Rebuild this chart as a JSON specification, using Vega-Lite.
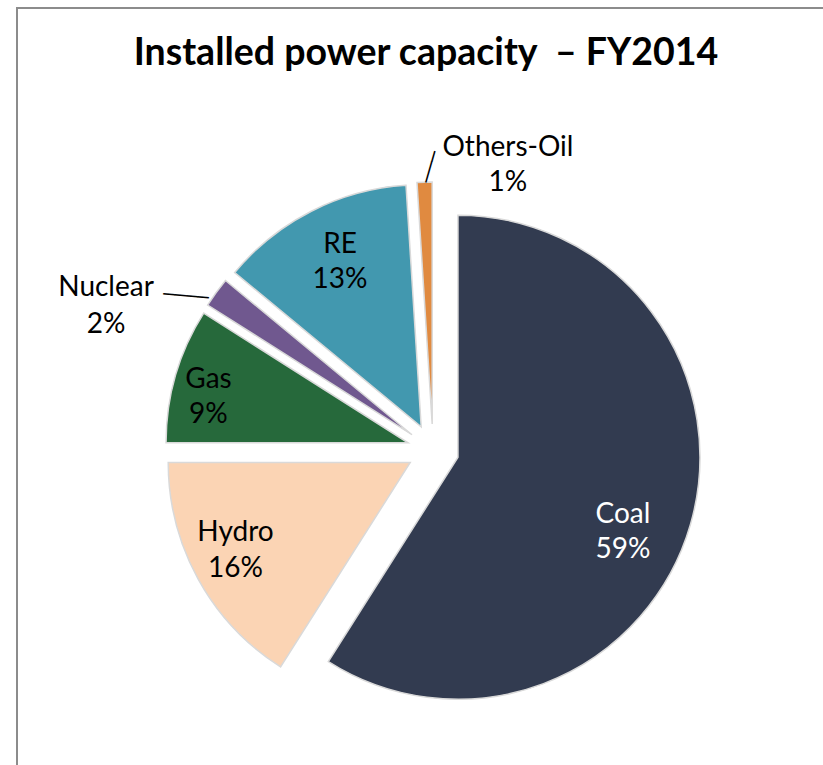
{
  "$schema": "https://vega.github.io/schema/vega-lite/v6.json",
  "autosize": "none",
  "width": 832,
  "height": 884,
  "padding": {"left": 17, "top": 8, "right": 0, "bottom": 0},
  "background": "white",
  "view": {"stroke": "#8c8c8c", "strokeWidth": 2},
  "title": {
    "text": "Installed power capacity\u00a0 – FY2014",
    "font": "Lato",
    "fontSize": 37.5,
    "fontWeight": "bold",
    "color": "black",
    "anchor": "middle",
    "orient": "top",
    "offset": -94,
    "baseline": "alphabetic",
    "dx": -7
  },
  "data": {
    "values": [
      {"category": "Coal", "share": 59, "rank": 1, "label": "Coal\n59%"},
      {"category": "Hydro", "share": 16, "rank": 2, "label": "Hydro\n16%"},
      {"category": "Gas", "share": 9, "rank": 3, "label": "Gas\n9%"},
      {"category": "Nuclear", "share": 2, "rank": 4, "label": "Nuclear\n2%"},
      {"category": "RE", "share": 13, "rank": 5, "label": "RE\n13%"},
      {"category": "Others-Oil", "share": 1, "rank": 6, "label": "Others-Oil\n1%"}
    ]
  },
  "encoding": {
    "theta": {"field": "share", "type": "quantitative", "stack": true},
    "order": {"field": "rank", "type": "quantitative"},
    "detail": {"field": "category", "type": "nominal"}
  },
  "layer": [
    {
      "mark": {
        "type": "arc",
        "outerRadius": 242,
        "stroke": "#d9d9d9",
        "strokeWidth": 1.5,
        "xOffset": {"expr": "26*sin((datum.share_start+datum.share_end)*PI/100)"},
        "yOffset": {"expr": "-26*cos((datum.share_start+datum.share_end)*PI/100)"}
      },
      "encoding": {
        "color": {
          "field": "category",
          "type": "nominal",
          "scale": {
            "domain": ["Coal", "Hydro", "Gas", "Nuclear", "RE", "Others-Oil"],
            "range": ["#323b50", "#fbd4b4", "#26693b", "#70588f", "#4298af", "#e08a40"]
          },
          "legend": null
        }
      }
    },
    {
      "mark": {"type": "text", "radius": 207, "thetaOffset": 0.127, "dy": -17.5, "font": "Lato", "fontSize": 28, "lineBreak": "\n", "lineHeight": 35, "align": "center", "baseline": "middle"},
      "encoding": {
        "text": {"condition": {"test": "datum.category === 'Coal'", "field": "label", "type": "nominal"}, "value": ""},
        "color": {"value": "white"}
      }
    },
    {
      "mark": {"type": "text", "radius": 221.6, "thetaOffset": 0.032, "dy": -17.5, "font": "Lato", "fontSize": 28, "lineBreak": "\n", "lineHeight": 36, "align": "center", "baseline": "middle"},
      "encoding": {
        "text": {"condition": {"test": "datum.category === 'Hydro'", "field": "label", "type": "nominal"}, "value": ""},
        "color": {"value": "black"}
      }
    },
    {
      "mark": {"type": "text", "radius": 230.6, "thetaOffset": -0.053, "dy": -17.5, "font": "Lato", "fontSize": 28, "lineBreak": "\n", "lineHeight": 35, "align": "center", "baseline": "middle"},
      "encoding": {
        "text": {"condition": {"test": "datum.category === 'Gas'", "field": "label", "type": "nominal"}, "value": ""},
        "color": {"value": "black"}
      }
    },
    {
      "mark": {"type": "text", "radius": 209.3, "thetaOffset": 0.011, "dy": -17.5, "font": "Lato", "fontSize": 28, "lineBreak": "\n", "lineHeight": 35, "align": "center", "baseline": "middle"},
      "encoding": {
        "text": {"condition": {"test": "datum.category === 'RE'", "field": "label", "type": "nominal"}, "value": ""},
        "color": {"value": "black"}
      }
    },
    {
      "mark": {"type": "text", "radius": 357, "thetaOffset": -0.215, "dy": -18.5, "font": "Lato", "fontSize": 28, "lineBreak": "\n", "lineHeight": 37, "align": "center", "baseline": "middle"},
      "encoding": {
        "text": {"condition": {"test": "datum.category === 'Nuclear'", "field": "label", "type": "nominal"}, "value": ""},
        "color": {"value": "black"}
      }
    },
    {
      "mark": {"type": "text", "radius": 294.2, "thetaOffset": 0.289, "dy": -17.5, "font": "Lato", "fontSize": 28, "lineBreak": "\n", "lineHeight": 35, "align": "center", "baseline": "middle"},
      "encoding": {
        "text": {"condition": {"test": "datum.category === 'Others-Oil'", "field": "label", "type": "nominal"}, "value": ""},
        "color": {"value": "black"}
      }
    },
    {
      "mark": {"type": "text", "radius": 291, "thetaOffset": -0.0716, "angle": 5, "font": "DejaVu Sans Mono", "fontSize": 19, "fontWeight": "bold", "align": "center", "baseline": "middle"},
      "encoding": {
        "text": {"condition": {"test": "datum.category === 'Nuclear'", "value": "────"}, "value": ""},
        "color": {"value": "black"}
      }
    },
    {
      "mark": {"type": "text", "radius": 283, "thetaOffset": 0.026, "angle": 286, "font": "DejaVu Sans Mono", "fontSize": 18, "fontWeight": "bold", "align": "center", "baseline": "middle"},
      "encoding": {
        "text": {"condition": {"test": "datum.category === 'Others-Oil'", "value": "───"}, "value": ""},
        "color": {"value": "black"}
      }
    }
  ]
}
